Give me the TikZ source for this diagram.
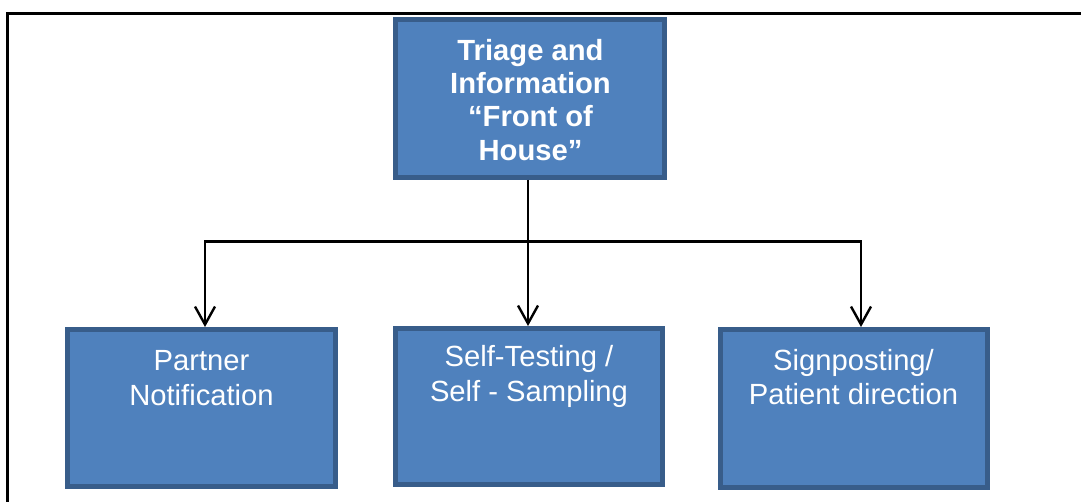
\documentclass[tikz,border=0pt]{standalone}
\usepackage{fontspec}
\setmainfont{Liberation Sans}
\usetikzlibrary{arrows.meta,calc}
\definecolor{boxfill}{HTML}{4F81BD}
\definecolor{boxline}{HTML}{385D8A}
\tikzset{
  box/.style={draw=boxline, fill=boxfill, line width=5pt, inner sep=0pt},
  lbl/.style={text=white, align=center, inner sep=0pt, anchor=north},
  conn/.style={line width=2.4pt, draw=black},
  arr/.style={conn, -{Straight Barb[length=18pt,width=20pt]}},
}
\begin{document}
\begin{tikzpicture}[x=1pt,y=-1pt]
\useasboundingbox (0,0) rectangle (1081,502);
% frame (top and left edges)
\coordinate (fa) at (7.5,502);
\coordinate (fb) at (7.5,13.5);
\coordinate (fc) at (1081,13.5);
\draw[line width=3pt, line cap=rect] (fa) -- (fb) -- (fc);
% boxes
\node[box, minimum width=269pt, minimum height=158pt] (top) at (530,98.5) {};
\node[box, minimum width=268pt, minimum height=157pt] (b1) at (201.5,408) {};
\node[box, minimum width=267pt, minimum height=156pt] (b2) at (529,406.5) {};
\node[box, minimum width=267pt, minimum height=158pt] (b3) at (853.5,408.5) {};
% labels
\node[lbl, font=\bfseries\fontsize{29.2}{33.3}\selectfont] (t0) at ($(top.north)+(0.5,22)$) {Triage and\\Information\\“Front of\\House”};
\node[lbl, font=\fontsize{29.2}{34.6}\selectfont] (t1) at ($(b1.north)+(0,23.5)$) {Partner\\Notification};
\node[lbl, font=\fontsize{29.2}{34.6}\selectfont] (t2) at ($(b2.north)+(0,19.5)$) {Self-Testing /\\Self - Sampling};
\node[lbl, font=\fontsize{29.2}{34.6}\selectfont] (t3) at ($(b3.north)+(0,22)$) {Signposting/\\Patient direction};
% connectors
\coordinate (j) at (528,241.5);
\draw[conn] (j |- top.south) -- (j);
\draw[arr] (j) -| ([xshift=3.5pt]b1.north);
\draw[arr] (j) -- (j |- b2.north);
\draw[arr] (j) -| ([xshift=7.5pt]b3.north);
\end{tikzpicture}
\end{document}
